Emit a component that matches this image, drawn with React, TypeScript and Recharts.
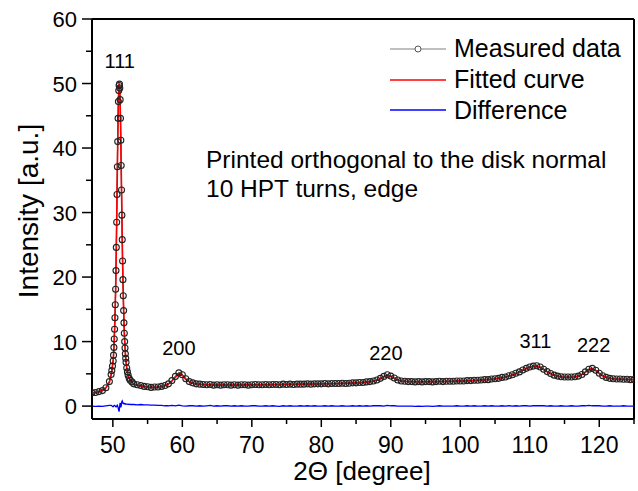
import { ComposedChart, Line, XAxis, YAxis, ReferenceLine, ReferenceDot } from 'recharts';

const FONT = '"Liberation Sans", Arial, Helvetica, sans-serif';

// 2-theta grid (degrees)
const twoTheta = [
  47.0, 47.5, 48.0, 48.5, 49.0, 49.5, 49.75, 49.85, 49.95,
  50.05, 50.1, 50.15, 50.2, 50.25, 50.3, 50.35, 50.4, 50.45, 50.5,
  50.55, 50.6, 50.65, 50.7, 50.75, 50.8, 50.85, 50.9, 50.95,
  51.0, 51.05, 51.1, 51.15, 51.2, 51.25, 51.3, 51.35, 51.4, 51.45,
  51.5, 51.55, 51.6, 51.65, 51.7, 51.75, 51.8, 51.85, 51.9,
  52.0, 52.1, 52.2, 52.35, 52.5, 52.75,
  53.0, 53.5, 54.0, 54.5, 55.0, 55.5, 56.0, 56.5, 57.0, 57.5,
  58.0, 58.5, 59.0, 59.5, 60.0, 60.5, 61.0, 61.5, 62.0, 62.5,
  63.0, 63.5, 64.0, 64.5, 65.0, 65.5, 66.0, 66.5, 67.0, 67.5,
  68.0, 68.5, 69.0, 69.5, 70.0, 70.5, 71.0, 71.5, 72.0, 72.5,
  73.0, 73.5, 74.0, 74.5, 75.0, 75.5, 76.0, 76.5, 77.0, 77.5,
  78.0, 78.5, 79.0, 79.5, 80.0, 80.5, 81.0, 81.5, 82.0, 82.5,
  83.0, 83.5, 84.0, 84.5, 85.0, 85.5, 86.0, 86.5, 87.0, 87.5,
  88.0, 88.5, 89.0, 89.5, 90.0, 90.5, 91.0, 91.5, 92.0, 92.5,
  93.0, 93.5, 94.0, 94.5, 95.0, 95.5, 96.0, 96.5, 97.0, 97.5,
  98.0, 98.5, 99.0, 99.5, 100.0, 100.5, 101.0, 101.5, 102.0, 102.5,
  103.0, 103.5, 104.0, 104.5, 105.0, 105.5, 106.0, 106.5, 107.0, 107.5,
  108.0, 108.5, 109.0, 109.5, 110.0, 110.5, 111.0, 111.5, 112.0, 112.5,
  113.0, 113.5, 114.0, 114.5, 115.0, 115.5, 116.0, 116.5, 117.0, 117.5,
  118.0, 118.5, 119.0, 119.5, 120.0, 120.5, 121.0, 121.5, 122.0, 122.5,
  123.0, 123.5, 124.0, 124.5, 125.0,
];

const measured = [
  2.05, 2.1, 2.25, 2.4, 2.85, 3.8, 4.9, 5.5, 6.2,
  7.0, 7.9, 9.1, 10.4, 11.9, 13.7, 15.7, 18.1, 21.0, 24.6,
  28.5, 32.8, 37.1, 41.0, 44.6, 47.2, 48.9, 49.7, 49.9,
  49.3, 47.5, 44.6, 41.2, 37.3, 33.5, 29.6, 25.8, 22.5, 19.6,
  17.1, 14.8, 12.9, 11.3, 10.0, 9.0, 8.1, 7.4, 6.8,
  5.9, 5.3, 4.8, 4.3, 4.0, 3.75,
  3.45, 3.3, 3.2, 3.05, 3.0, 2.9, 2.95, 2.95, 3.05, 3.2,
  3.45, 3.95, 4.6, 5.15, 4.85, 4.25, 3.8, 3.6, 3.45, 3.4,
  3.35, 3.3, 3.35, 3.25, 3.3, 3.25, 3.3, 3.3, 3.25, 3.3,
  3.25, 3.3, 3.3, 3.25, 3.3, 3.35, 3.3, 3.3, 3.35, 3.3,
  3.35, 3.35, 3.3, 3.4, 3.35, 3.4, 3.35, 3.4, 3.4, 3.4,
  3.45, 3.4, 3.45, 3.45, 3.45, 3.5, 3.45, 3.5, 3.5, 3.5,
  3.55, 3.5, 3.55, 3.6, 3.6, 3.65, 3.65, 3.75, 3.8, 3.9,
  4.05, 4.3, 4.6, 4.85, 4.65, 4.35, 4.05, 3.9, 3.85, 3.8,
  3.8, 3.75, 3.8, 3.75, 3.8, 3.8, 3.75, 3.8, 3.85, 3.8,
  3.85, 3.85, 3.85, 3.9, 3.9, 3.9, 3.95, 3.95, 4.0, 4.0,
  4.05, 4.1, 4.1, 4.2, 4.25, 4.3, 4.45, 4.5, 4.7, 4.85,
  5.1, 5.3, 5.6, 5.85, 6.05, 6.2, 6.25, 6.05, 5.7, 5.35,
  5.05, 4.8, 4.65, 4.55, 4.5, 4.5, 4.5, 4.55, 4.65, 4.9,
  5.3, 5.7, 5.85, 5.55, 5.1, 4.7, 4.45, 4.3, 4.25, 4.2,
  4.2, 4.15, 4.15, 4.1, 4.1,
];

const fitted = [
  2.0, 2.12, 2.27, 2.45, 2.8, 3.65, 4.75, 5.45, 6.3,
  7.2, 8.0, 9.0, 10.2, 11.7, 13.5, 15.6, 18.1, 21.1, 24.6,
  28.5, 32.6, 36.8, 40.9, 44.5, 47.3, 49.1, 49.9, 49.8,
  48.8, 47.0, 44.3, 41.0, 37.3, 33.5, 29.7, 26.0, 22.7, 19.8,
  17.3, 15.1, 13.2, 11.6, 10.3, 9.2, 8.3, 7.5, 6.9,
  5.9, 5.25, 4.75, 4.25, 3.95, 3.7,
  3.4, 3.25, 3.12, 3.02, 2.95, 2.9, 2.9, 2.93, 3.0, 3.15,
  3.4, 3.85, 4.5, 4.95, 4.75, 4.15, 3.75, 3.55, 3.45, 3.38,
  3.34, 3.31, 3.3, 3.29, 3.28, 3.28, 3.28, 3.28, 3.28, 3.28,
  3.28, 3.29, 3.29, 3.3, 3.3, 3.31, 3.31, 3.32, 3.32, 3.33,
  3.33, 3.34, 3.34, 3.35, 3.36, 3.37, 3.37, 3.38, 3.39, 3.4,
  3.41, 3.42, 3.43, 3.44, 3.45, 3.46, 3.47, 3.48, 3.49, 3.5,
  3.52, 3.53, 3.55, 3.57, 3.6, 3.63, 3.67, 3.72, 3.78, 3.87,
  4.0, 4.25, 4.55, 4.75, 4.6, 4.3, 4.05, 3.92, 3.85, 3.81,
  3.79, 3.78, 3.78, 3.78, 3.78, 3.79, 3.79, 3.8, 3.81, 3.82,
  3.83, 3.84, 3.86, 3.87, 3.89, 3.9, 3.92, 3.94, 3.97, 4.0,
  4.03, 4.07, 4.12, 4.17, 4.23, 4.31, 4.4, 4.51, 4.65, 4.83,
  5.04, 5.3, 5.57, 5.83, 6.03, 6.17, 6.2, 6.0, 5.67, 5.33,
  5.03, 4.8, 4.64, 4.54, 4.49, 4.48, 4.5, 4.56, 4.67, 4.9,
  5.28, 5.65, 5.8, 5.5, 5.05, 4.68, 4.45, 4.32, 4.25, 4.2,
  4.17, 4.15, 4.13, 4.12, 4.11,
];

const difference = [
  0.0, -0.05, 0.0, -0.05, 0.05, 0.1, 0.1, 0.05, -0.05,
  -0.1, -0.05, 0.05, 0.1, 0.1, 0.05, 0.0, -0.05, -0.1, -0.1,
  -0.05, 0.1, 0.15, 0.0, -0.2, -0.45, -0.7, -0.85, -0.4,
  0.1, 0.5, 0.3, -0.2, 0.0, 0.4, 0.7, 0.8, 0.6, 0.45,
  0.4, 0.45, 0.4, 0.35, 0.4, 0.35, 0.3, 0.35, 0.3,
  0.3, 0.3, 0.25, 0.3, 0.25, 0.25,
  0.25, 0.2, 0.25, 0.2, 0.2, 0.15, 0.15, 0.1, 0.1, 0.05,
  0.05, 0.1, 0.05, 0.15, 0.05, 0.0, 0.05, 0.05, 0.0, 0.05,
  0.0, 0.05, 0.1, 0.0, 0.05, 0.0, 0.05, 0.05, 0.0, 0.05,
  0.0, 0.05, 0.0, 0.0, 0.05, 0.05, 0.0, 0.0, 0.05, 0.0,
  0.05, 0.0, -0.05, 0.05, 0.0, 0.05, 0.0, 0.0, 0.05, 0.0,
  0.05, 0.0, 0.05, 0.0, 0.0, 0.05, 0.0, 0.05, 0.0, 0.0,
  0.05, 0.0, 0.0, 0.05, 0.0, 0.05, 0.0, 0.05, 0.0, 0.05,
  0.05, 0.05, 0.0, 0.1, 0.05, 0.05, 0.0, 0.0, 0.0, 0.0,
  0.0, -0.05, 0.0, -0.05, 0.0, 0.0, -0.05, 0.0, 0.05, 0.0,
  0.0, 0.0, 0.0, 0.05, 0.0, 0.0, 0.05, 0.0, 0.05, 0.0,
  0.0, 0.05, 0.0, 0.05, 0.0, 0.0, 0.05, 0.0, 0.05, 0.0,
  0.05, 0.0, 0.05, 0.05, 0.0, 0.05, 0.05, 0.05, 0.05, 0.0,
  0.05, 0.0, 0.0, 0.05, 0.0, 0.0, 0.05, 0.0, 0.0, 0.05,
  0.05, 0.1, 0.05, 0.05, 0.05, 0.0, 0.0, 0.05, 0.0, 0.0,
  0.0, 0.05, 0.0, 0.0, 0.0,
];

const xTicks = [50, 55, 60, 65, 70, 75, 80, 85, 90, 95, 100, 105, 110, 115, 120, 125];
const yTicks = [0, 5, 10, 15, 20, 25, 30, 35, 40, 45, 50, 55, 60];

// reflection labels: name, 2-theta of the peak, height of the label baseline
const peakNames = ['111', '200', '220', '311', '222'];
const peakPos = [51.0, 59.5, 89.3, 110.8, 119.2];
const peakLabelY = [52.4, 7.85, 7.2, 9.0, 8.45];

const rows = twoTheta.map((t, i) => ({
  t,
  measured: measured[i],
  fitted: fitted[i],
  difference: difference[i],
}));

function XTick(props: any) {
  const { x, y, payload } = props;
  const major = payload.value % 10 === 0;
  return (
    <g>
      <line x1={x} x2={x} y1={y} y2={y + (major ? 8 : 5)} stroke="#000" strokeWidth={1.5} />
      {major && payload.value < 125 && (
        <text x={x} y={y + 34} textAnchor="middle" fontSize={23} fontFamily={FONT} fill="#000">
          {payload.value}
        </text>
      )}
    </g>
  );
}

function YTick(props: any) {
  const { x, y, payload } = props;
  const major = payload.value % 10 === 0;
  return (
    <g>
      <line x1={x - (major ? 10 : 6)} x2={x} y1={y} y2={y} stroke="#000" strokeWidth={1.5} />
      {major && (
        <text x={x - 15} y={y + 8} textAnchor="end" fontSize={22} fontFamily={FONT} fill="#000">
          {payload.value}
        </text>
      )}
    </g>
  );
}

export default function App() {
  return (
    <div style={{ position: 'absolute', left: 0, top: 0, width: 638, height: 491, background: '#fff' }}>
      <ComposedChart width={638} height={491} data={rows} margin={{ top: 19, right: 4, bottom: 0, left: 0 }}>
        <XAxis
          type="number"
          dataKey="t"
          domain={[47, 125]}
          ticks={xTicks}
          interval={0}
          allowDataOverflow
          tickSize={0}
          tickMargin={0}
          tickLine={false}
          axisLine={{ stroke: '#000', strokeWidth: 2 }}
          tick={(p: any) => <XTick {...p} />}
          height={72}
        />
        <YAxis
          type="number"
          domain={[-2, 60]}
          ticks={yTicks}
          interval={0}
          allowDataOverflow
          tickSize={0}
          tickMargin={0}
          tickLine={false}
          axisLine={{ stroke: '#000', strokeWidth: 2 }}
          tick={(p: any) => <YTick {...p} />}
          width={92}
        />
        <ReferenceLine y={60} stroke="#000" strokeWidth={2} />
        <ReferenceLine x={125} stroke="#000" strokeWidth={2} />
        <Line
          type="linear"
          dataKey="measured"
          stroke="#333"
          strokeWidth={1.2}
          dot={{ r: 3, stroke: '#222', strokeWidth: 1.1, fill: 'none' }}
          activeDot={false}
          isAnimationActive={false}
        />
        <Line
          type="linear"
          dataKey="fitted"
          stroke="#ff0000"
          strokeWidth={1.6}
          dot={false}
          activeDot={false}
          isAnimationActive={false}
        />
        <Line
          type="linear"
          dataKey="difference"
          stroke="#0000ff"
          strokeWidth={1.3}
          dot={false}
          activeDot={false}
          isAnimationActive={false}
        />
        {peakNames.map((name, i) => (
          <ReferenceDot
            key={name}
            x={peakPos[i]}
            y={peakLabelY[i]}
            r={0}
            shape={(p: any) => (
              <text x={p.cx} y={p.cy} textAnchor="middle" fontSize={20} fontFamily={FONT} fill="#000">
                {name}
              </text>
            )}
          />
        ))}
      </ComposedChart>

      <svg
        width={638}
        height={491}
        style={{ position: 'absolute', left: 0, top: 0, pointerEvents: 'none' }}
        fontFamily={FONT}
      >
        {/* legend */}
        <line x1={390} x2={446} y1={49} y2={49} stroke="#808080" strokeWidth={1.2} />
        <circle cx={418} cy={49} r={3} fill="#fff" stroke="#555" strokeWidth={1} />
        <text x={454} y={57} fontSize={25} fill="#000">Measured data</text>
        <line x1={390} x2={446} y1={80} y2={80} stroke="#ff0000" strokeWidth={1.4} />
        <text x={454} y={88} fontSize={25} fill="#000">Fitted curve</text>
        <line x1={390} x2={446} y1={110} y2={110} stroke="#0000ff" strokeWidth={1.4} />
        <text x={454} y={119} fontSize={25} fill="#000">Difference</text>

        {/* sample note */}
        <text x={206} y={168} fontSize={24.5} fill="#000">Printed orthogonal to the disk normal</text>
        <text x={206} y={197} fontSize={24.5} fill="#000">10 HPT turns, edge</text>

        {/* axis titles */}
        <text x={362} y={480} fontSize={26} textAnchor="middle" fill="#000">2Θ [degree]</text>
        <text x={38} y={211} fontSize={28} textAnchor="middle" fill="#000" transform="rotate(-90 38 211)">
          Intensity [a.u.]
        </text>
      </svg>
    </div>
  );
}
